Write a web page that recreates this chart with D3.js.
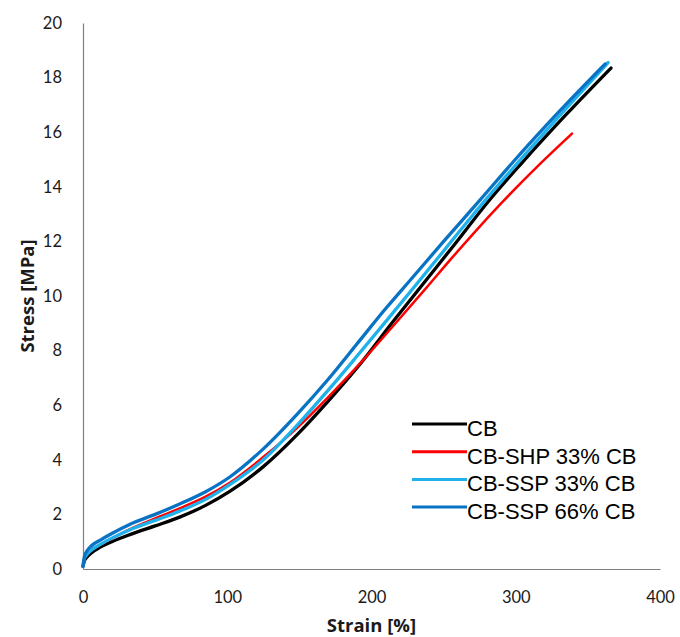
<!DOCTYPE html>
<html>
<head>
<meta charset="utf-8">
<script src="https://cdn.jsdelivr.net/npm/d3@7"></script>
<style>
  body { margin: 0; background: #fff; }
  .tick text { font-family: Lato, "Open Sans", sans-serif; font-size: 16.5px; fill: #1a1a1a; }
  .axis-title { font-family: "Open Sans", Lato, sans-serif; font-weight: bold; font-size: 18.5px; fill: #1a1a1a; }
  .legend text { font-family: "Liberation Sans", Arial, sans-serif; font-size: 22px; fill: #000; }
</style>
</head>
<body>
<div class="chart-container"></div>
<script>
// Series data
var seriesNames = ["CB", "CB-SHP 33% CB", "CB-SSP 33% CB", "CB-SSP 66% CB"];
var seriesColors = ["#000000", "#ff0000", "#1fb1ea", "#0872c4"];

var strainCB = [0, 1, 3, 6, 12, 20, 33, 50, 67, 85, 102, 125, 149, 170, 192, 214, 236, 257, 280, 304, 335, 366];
var stressCB = [0.1, 0.3, 0.45, 0.6, 0.8, 1.0, 1.27, 1.58, 1.9, 2.33, 2.85, 3.75, 4.95, 6.15, 7.5, 9.0, 10.46, 11.85, 13.4, 14.86, 16.65, 18.35];

var strainSHP33 = [0, 1, 3, 6, 12, 20, 33, 50, 67, 85, 102, 125, 149, 170, 195, 215, 238, 255, 270, 290, 317, 339];
var stressSHP33 = [0.1, 0.4, 0.58, 0.72, 0.88, 1.12, 1.47, 1.85, 2.22, 2.65, 3.17, 4.1, 5.2, 6.3, 7.7, 8.9, 10.3, 11.35, 12.25, 13.4, 14.85, 15.95];

var strainSSP33 = [0, 1, 3, 6, 12, 20, 33, 50, 67, 85, 102, 125, 149, 170, 190, 212, 233, 250, 270, 300, 332, 364];
var stressSSP33 = [0.1, 0.38, 0.55, 0.7, 0.9, 1.13, 1.45, 1.78, 2.12, 2.55, 3.1, 4.0, 5.3, 6.55, 7.8, 9.2, 10.55, 11.65, 12.95, 14.8, 16.7, 18.55];

var strainSSP66 = [0, 1, 3, 6, 12, 20, 33, 50, 67, 85, 102, 125, 149, 170, 190, 210, 228, 250, 275, 298, 330, 362];
var stressSSP66 = [0.1, 0.45, 0.68, 0.86, 1.06, 1.3, 1.65, 2.0, 2.38, 2.83, 3.38, 4.4, 5.7, 6.95, 8.25, 9.55, 10.65, 12.0, 13.5, 14.9, 16.75, 18.5];

var xTicks = [0, 100, 200, 300, 400];
var yTicks = [0, 2, 4, 6, 8, 10, 12, 14, 16, 18, 20];

var strains = [strainCB, strainSHP33, strainSSP33, strainSSP66];
var stresses = [stressCB, stressSHP33, stressSSP33, stressSSP66];

// Set size
var W = 680, H = 637;
var margin = { top: 23, right: 20, bottom: 68, left: 83 },
    width = 660 - margin.left,
    height = H - margin.top - margin.bottom;

var x = d3.scaleLinear().domain([0, 400]).range([0, width]);
var y = d3.scaleLinear().domain([0, 20]).range([height, 0]);

var svg = d3.select('.chart-container').append("svg")
    .attr("width", W)
    .attr("height", H)
    .append("g")
    .attr("transform", "translate(" + margin.left + "," + margin.top + ")");

// Axes
svg.append("g")
    .attr("class", "x-axis")
    .attr("transform", "translate(0," + height + ")")
    .call(d3.axisBottom(x).tickValues(xTicks).tickSize(0).tickPadding(22));
svg.append("g")
    .attr("class", "y-axis")
    .call(d3.axisLeft(y).tickValues(yTicks).tickSize(0).tickPadding(21));
svg.selectAll(".domain").attr("stroke", "#7f7f7f").attr("stroke-width", 1.2);

// Axis titles
svg.append("text")
    .attr("class", "axis-title")
    .attr("x", x(200))
    .attr("y", height + 63)
    .attr("text-anchor", "middle")
    .text("Strain [%]");
svg.append("text")
    .attr("class", "axis-title")
    .attr("transform", "translate(-49," + y(10) + ") rotate(-90)")
    .attr("text-anchor", "middle")
    .text("Stress [MPa]");

// Curves
var line = d3.line()
    .x(function(d) { return x(d[0]); })
    .y(function(d) { return y(d[1]); })
    .curve(d3.curveMonotoneX);

seriesNames.forEach(function(name, i) {
    var pts = strains[i].map(function(s, j) { return [s, stresses[i][j]]; });
    svg.append("path")
        .datum(pts)
        .attr("fill", "none")
        .attr("stroke", seriesColors[i])
        .attr("stroke-width", i === 1 ? 2.5 : 3.3)
        .attr("stroke-linejoin", "round")
        .attr("stroke-linecap", "round")
        .attr("d", line);
});

// Legend
var legend = svg.append("g")
    .attr("class", "legend")
    .attr("transform", "translate(" + (412 - margin.left) + "," + (424 - margin.top) + ")");
seriesNames.forEach(function(name, i) {
    var row = legend.append("g").attr("transform", "translate(0," + (i * 27.7) + ")");
    row.append("line")
        .attr("x1", 0).attr("x2", 55)
        .attr("y1", 0).attr("y2", 0)
        .attr("stroke", seriesColors[i])
        .attr("stroke-width", 3);
    row.append("text")
        .attr("x", 55)
        .attr("y", 12)
        .text(name);
});
</script>
</body>
</html>
